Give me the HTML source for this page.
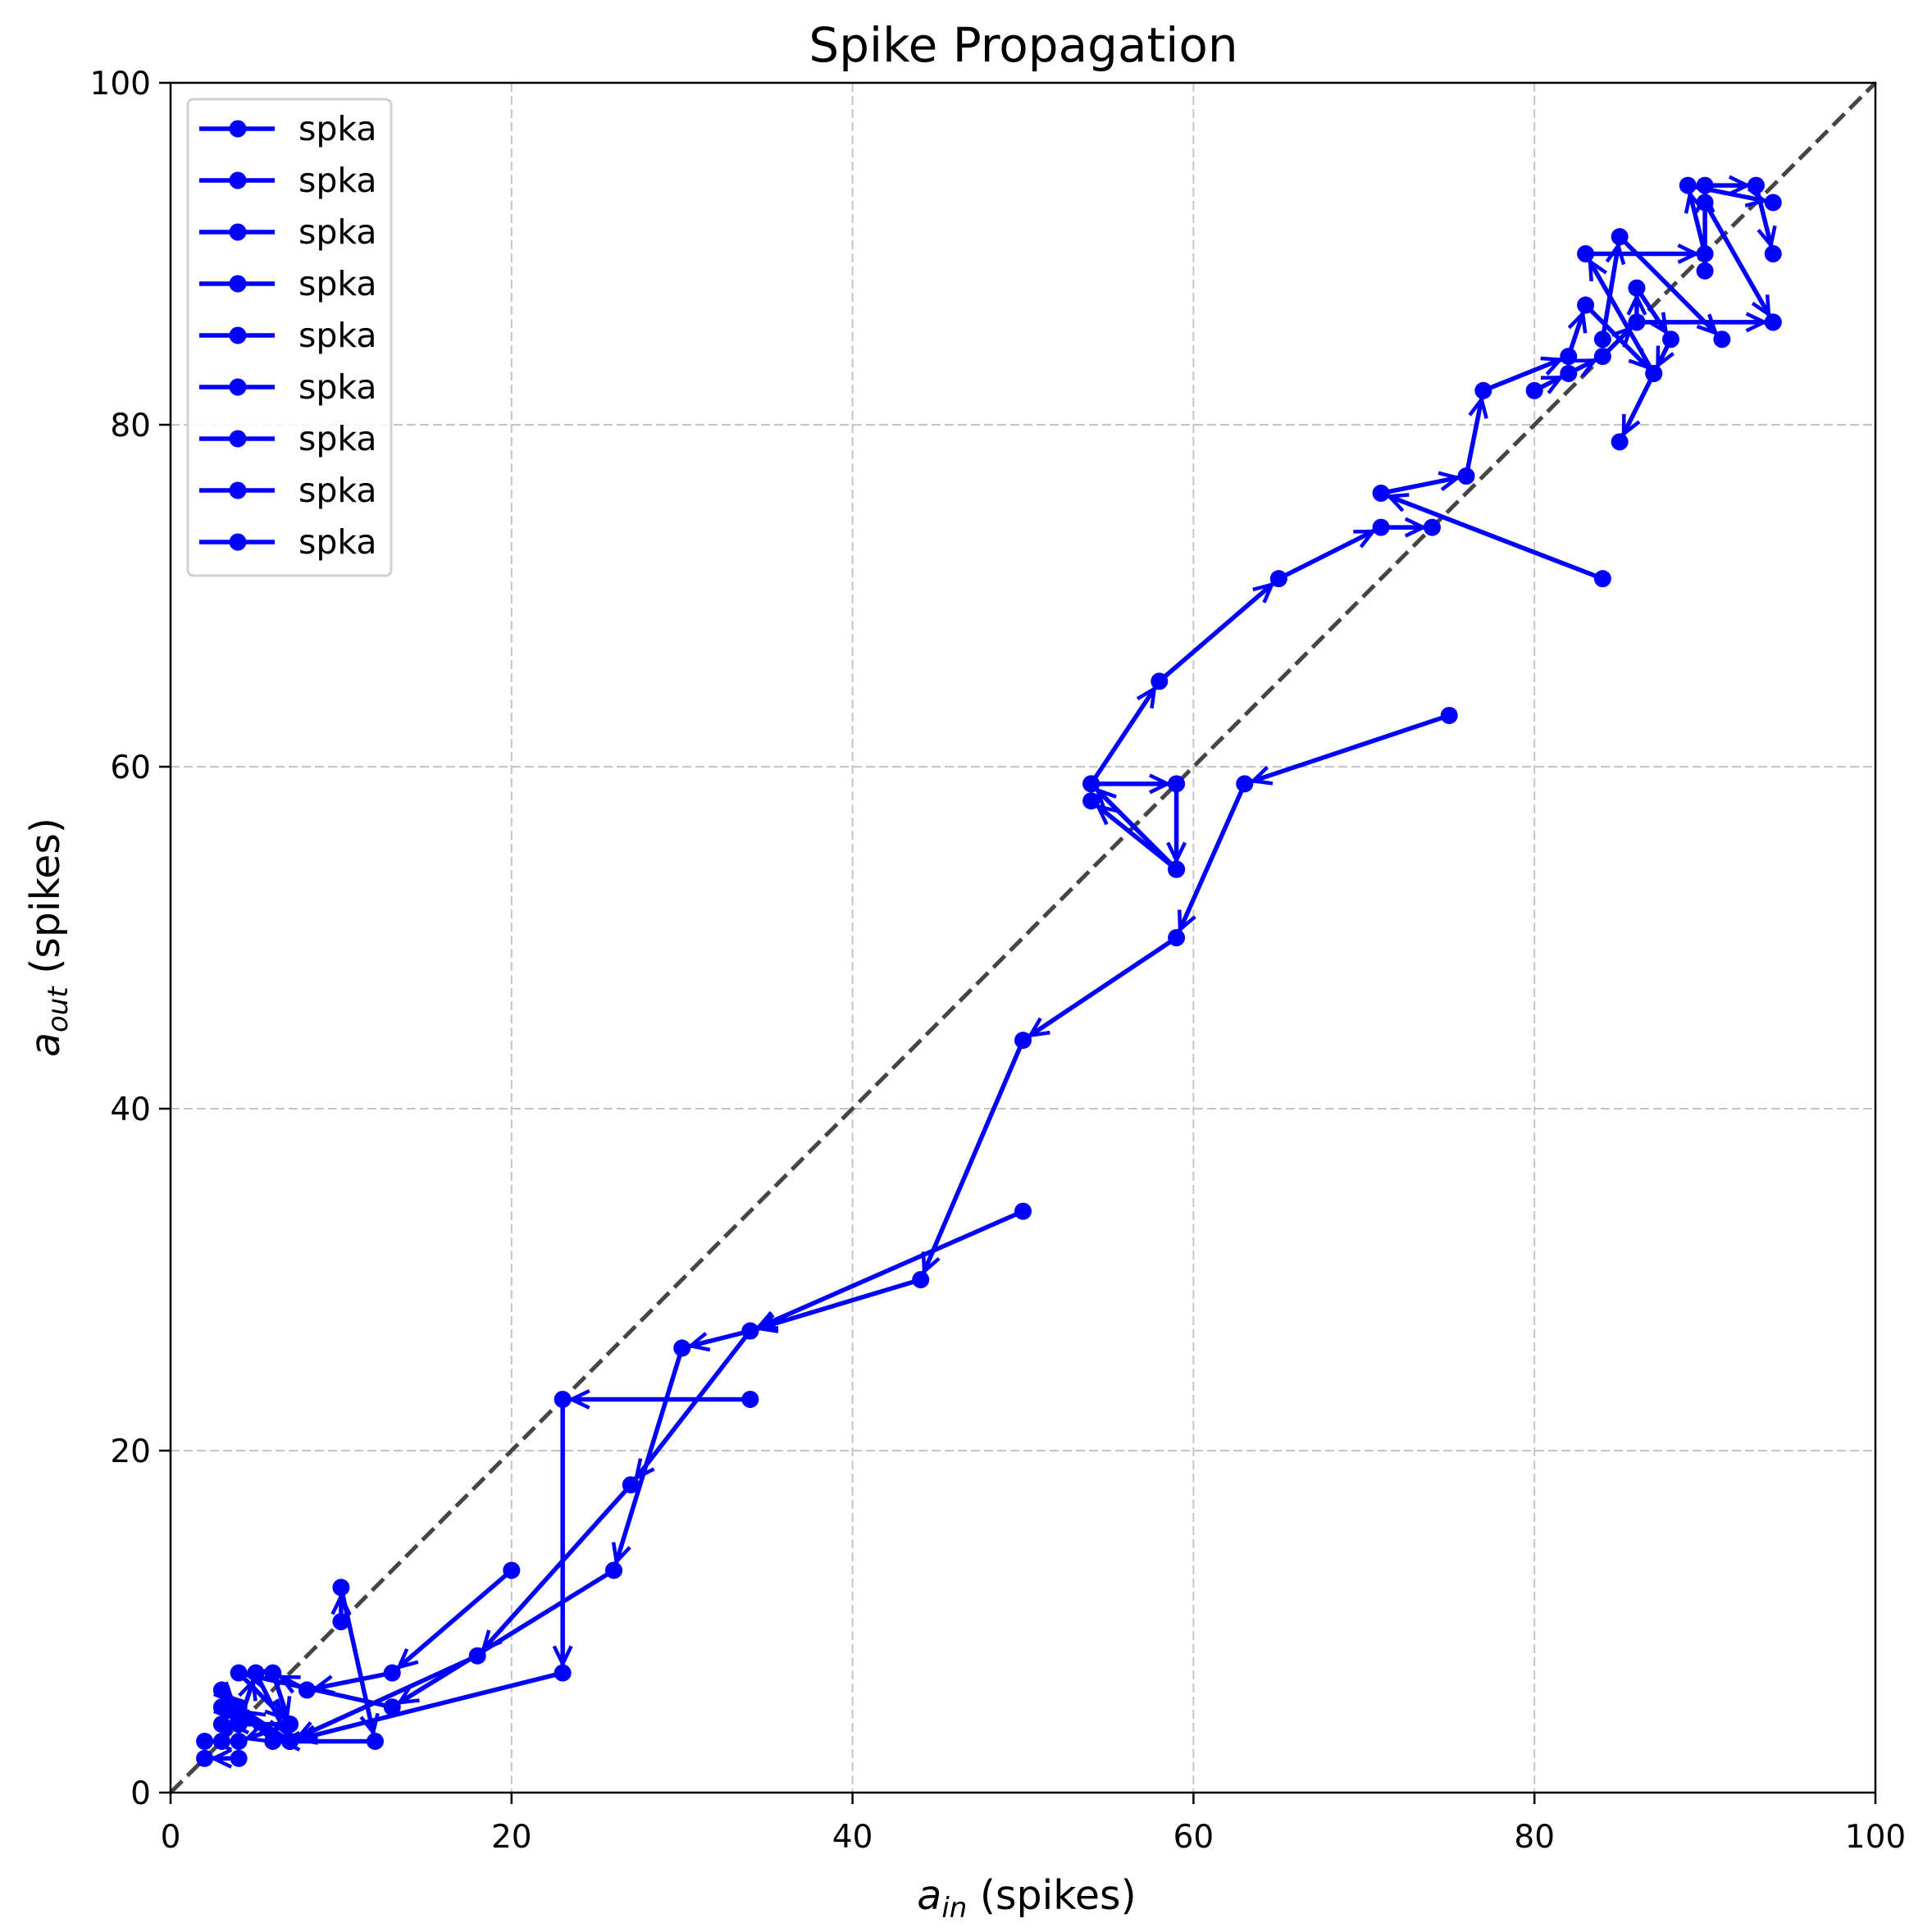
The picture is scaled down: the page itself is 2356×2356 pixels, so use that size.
<!DOCTYPE html>
<html><head><meta charset="utf-8"><style>
html,body{margin:0;padding:0;background:#fff}
svg{display:block}
text{font-family:"DejaVu Sans","Liberation Sans",sans-serif}
</style></head><body>
<svg id="chart" width="2356" height="2356" viewBox="0 0 2356 2356" xmlns="http://www.w3.org/2000/svg">
<rect width="2356" height="2356" fill="#fff"/>
<g id="grid"></g>
<g id="diag"></g>
<g id="series"></g>
<g id="axes"></g>
<g id="legend"></g>
<text x="1248" y="75" font-size="58" text-anchor="middle">Spike Propagation</text>
<text x="1252" y="2328" font-size="49" text-anchor="middle"><tspan font-style="italic">a</tspan><tspan font-style="italic" font-size="34" dy="10">in</tspan><tspan dy="-10"> (spikes)</tspan></text>
<text transform="translate(72,1143) rotate(-90)" font-size="49" text-anchor="middle"><tspan font-style="italic">a</tspan><tspan font-style="italic" font-size="34" dy="10">out</tspan><tspan dy="-10"> (spikes)</tspan></text>
</svg>
<script>
const xTicks=[0,20,40,60,80,100];
const yTicks=[0,20,40,60,80,100];
const legendLabels=["spka","spka","spka","spka","spka","spka","spka","spka","spka"];
const chainA=[[75,63],[63,59],[59,50],[50,44],[44,30],[34,27],[30,26],[26,13],[13,5],[4,7],[7,4],[3,4]];
const chainB=[[50,34],[34,27],[27,18],[18,8],[7,3],[4,5],[3,3]];
const chainC=[[34,23],[23,23],[23,7],[7,3],[3,5],[4,4]];
const chainD=[[20,13],[13,7],[8,6],[6,7],[7,4],[4,3],[2,3]];
const chainE=[[10,10],[10,12],[12,3],[6,3],[3,6],[4,5]];
const chainF=[[84,71],[71,76],[76,77],[77,82],[82,84],[83,87],[87,83],[83,90],[90,90],[89,94],[94,93]];
const chainG=[[59,54],[54,59],[59,59],[59,54],[54,58]];
const chainH=[[59,54],[54,59],[58,65],[65,71],[71,74],[74,74]];
const chainI=[[80,82],[82,83],[84,84],[86,86],[86,88],[88,85],[87,83],[85,79]];
const chainJ=[[84,85],[85,91],[91,85]];
const chainK=[[90,89],[90,94],[93,94],[94,90]];
const chainL=[[90,93],[94,86]];
const chainM=[[86,86],[94,86]];
const chainN=[[4,2],[2,2]];
const chainO=[[4,4],[5,7],[7,3]];
const chains=[chainA,chainB,chainC,chainD,chainE,chainF,chainG,chainH,chainI,chainJ,chainK,chainL,chainM,chainN,chainO];

const L=208,R=2287,T=101,B=2186;
const sx=v=>L+(v-0)/(100-0)*(R-L);
const sy=v=>B-(v-0)/(100-0)*(B-T);
const NS="http://www.w3.org/2000/svg";
function mk(tag,attrs,parent){const e=document.createElementNS(NS,tag);for(const k in attrs)e.setAttribute(k,attrs[k]);parent.appendChild(e);return e;}
const grid=document.getElementById('grid'),axes=document.getElementById('axes'),diag=document.getElementById('diag'),series=document.getElementById('series'),legend=document.getElementById('legend');

xTicks.forEach(v=>{
  if(v>0&&v<100){const g=mk('line',{x1:sx(v),x2:sx(v),y1:T,y2:B,stroke:'#c4c4c4','stroke-width':2,'stroke-dasharray':'11,5'},grid);
  
  }
  const t=mk('line',{x1:sx(v),x2:sx(v),y1:B,y2:B+14,stroke:'#000','stroke-width':2.5},axes);
  
  
  const tx=mk('text',{x:sx(v),y:B+67,'font-size':39,'text-anchor':'middle'},axes);tx.textContent=v;
  
  
});
yTicks.forEach(v=>{
  if(v>0&&v<100){const g=mk('line',{x1:L,x2:R,y1:sy(v),y2:sy(v),stroke:'#c4c4c4','stroke-width':2,'stroke-dasharray':'11,5'},grid);
  
  }
  const t=mk('line',{x1:L-14,x2:L,y1:sy(v),y2:sy(v),stroke:'#000','stroke-width':2.5},axes);
  
  
  const tx=mk('text',{x:L-24,y:sy(v)+14,'font-size':39,'text-anchor':'end'},axes);tx.textContent=v;
  
  
});
const frame=mk('rect',{x:L,y:T,width:R-L,height:B-T,fill:'none',stroke:'#000','stroke-width':2.5},axes);



const d=mk('line',{x1:sx(0),y1:sy(0),x2:sx(100),y2:sy(100),stroke:'#454545','stroke-width':5,'stroke-dasharray':'20,9'},diag);



chains.forEach((c,ci)=>{
  const g=mk('g',{},series);
  
  
  const pl=mk('polyline',{points:c.map(p=>sx(p[0])+','+sy(p[1])).join(' '),fill:'none',stroke:'#0000ff','stroke-width':5.5,'stroke-linejoin':'round'},g);
  
  
  for(let i=1;i<c.length;i++){
    const x0=sx(c[i-1][0]),y0=sy(c[i-1][1]),x1=sx(c[i][0]),y1=sy(c[i][1]);
    const dx=x1-x0,dy=y1-y0,len=Math.hypot(dx,dy);if(len<1)continue;
    const ux=dx/len,uy=dy/len,tx=x1-ux*11,ty=y1-uy*11;
    const a=0.45,hl=24;
    const p1=[tx-hl*(ux*Math.cos(a)-uy*Math.sin(a)),ty-hl*(uy*Math.cos(a)+ux*Math.sin(a))];
    const p2=[tx-hl*(ux*Math.cos(a)+uy*Math.sin(a)),ty-hl*(uy*Math.cos(a)-ux*Math.sin(a))];
    const ah=mk('polyline',{points:`${p1[0]},${p1[1]} ${tx},${ty} ${p2[0]},${p2[1]}`,fill:'none',stroke:'#0000ff','stroke-width':4.5},g);
    
    
  }
  c.forEach(p=>{const m=mk('circle',{cx:sx(p[0]),cy:sy(p[1]),r:10.5,fill:'#0000ff'},g);
    
    });
});

const lb=mk('rect',{x:229,y:121,width:248,height:581,rx:7,fill:'#fff','fill-opacity':0.85,stroke:'#d0d0d0','stroke-width':3},legend);


legendLabels.forEach((lab,i)=>{
  const y=157+i*63;
  const g=mk('g',{},legend);
  
  
  mk('line',{x1:243,x2:335,y1:y,y2:y,stroke:'#0000ff','stroke-width':5.5},g);
  mk('circle',{cx:290,cy:y,r:10.5,fill:'#0000ff'},g);
  const t=mk('text',{x:364,y:y+14,'font-size':41},g);t.textContent=lab;
});
</script>
</body></html>
